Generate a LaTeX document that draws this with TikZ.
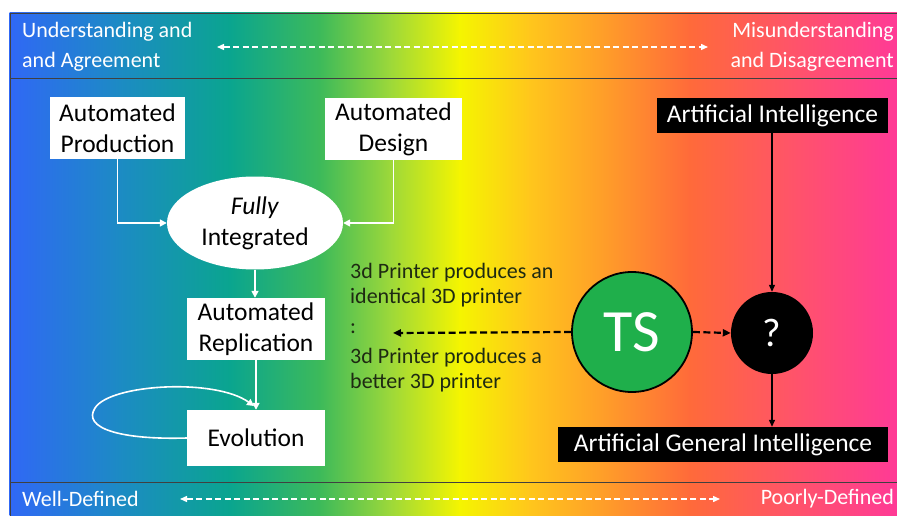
\documentclass[tikz,border=0pt]{standalone}
\usepackage{fontspec}
\setmainfont{Carlito}
\usetikzlibrary{arrows.meta,shapes.geometric,calc}
\definecolor{c0}{HTML}{3068F5}
\definecolor{c1}{HTML}{1C8BC4}
\definecolor{c2}{HTML}{0AA58F}
\definecolor{c3}{HTML}{3DBA5A}
\definecolor{c4}{HTML}{9CD83A}
\definecolor{c5}{HTML}{F5F500}
\definecolor{c6}{HTML}{FFC61C}
\definecolor{c7}{HTML}{FF9A2A}
\definecolor{c8}{HTML}{FF6A3A}
\definecolor{c9}{HTML}{FF5468}
\definecolor{c10}{HTML}{FF3A96}
\definecolor{tsgreen}{HTML}{1FAF4B}
\definecolor{txtdark}{HTML}{1E2A12}
\tikzset{
  wbox/.style={fill=white,text=black,align=center,inner sep=0pt,font=\fontsize{25.5}{31}\selectfont},
  bbox/.style={fill=black,text=white,align=center,inner sep=0pt,font=\fontsize{25.5}{28}\selectfont},
  wlabel/.style={text=white,align=left,inner sep=0pt,font=\fontsize{22}{30}\selectfont},
  warrow/.style={white,line width=1.6pt,-{Triangle[length=7pt,width=7pt]}},
  bandarrow/.style={white,line width=1.4pt,dash pattern=on 6pt off 3.5pt,{Triangle[length=7pt,width=6pt]}-{Triangle[length=7pt,width=6pt]}},
  barrow/.style={black,line width=1.2pt,-{Triangle[length=7pt,width=6pt]}},
  bdash/.style={black,line width=2.2pt,dash pattern=on 7pt off 3.5pt,-{Triangle[length=8pt,width=7pt]}},
  bandline/.style={black!75,line width=0.8pt}
}
\begin{document}
\begin{tikzpicture}[x=1pt,y=-1pt]
\useasboundingbox (0,0) rectangle (897,516);
\fill[white] (0,0) rectangle (897,516);
% gradient background
\foreach \xa/\xb/\ca/\cb in {10/120/c0/c1,120/230/c1/c2,230/320/c2/c3,320/390/c3/c4,390/460/c4/c5,460/530/c5/c6,530/610/c6/c7,610/690/c7/c8,690/790/c8/c9,790/897/c9/c10}{
  \shade[left color=\ca,right color=\cb] (\xa-0.3,13) rectangle (\xb+0.3,516);
}
\draw[bandline] (10,516) -- (10,13) -- (897,13);
\draw[bandline] (10,78) -- (897,78);
\draw[bandline] (10,482) -- (897,482);

% band labels
\node[wlabel,anchor=west] (ua) at (22,47) {Understanding and\\and Agreement};
\node[wlabel,anchor=east,align=right] (md) at (894,47) {Misunderstanding\\and Disagreement};
\coordinate (ta1) at (217,47);
\coordinate (ta2) at (708,47);
\draw[bandarrow] (ta1) -- (ta2);

\node[wlabel,anchor=west] (wd) at (22,499) {Well-Defined};
\node[wlabel,anchor=east] (pd) at (894,499) {Poorly-Defined};
\coordinate (ba1) at (180,499);
\coordinate (ba2) at (720,499);
\draw[bandarrow] (ba1) -- (ba2);

% left flow
\node[wbox,minimum width=135pt,minimum height=62pt] (prod) at (117.5,128) {Automated\\Production};
\node[wbox,minimum width=137pt,minimum height=62pt] (des) at (393.5,129) {Automated\\Design};
\node[ellipse,fill=white,text=black,align=center,inner sep=0pt,minimum width=176pt,minimum height=93pt,font=\fontsize{25.5}{31}\selectfont] (fi) at (255,223) {\textit{Fully}\\Integrated};
\node[wbox,minimum width=138pt,minimum height=62pt] (rep) at (256,329) {Automated\\Replication};
\node[wbox,minimum width=138pt,minimum height=56pt] (evo) at (256,438) {Evolution};

\draw[warrow] (prod.south) |- (fi.west);
\draw[warrow] (des.south) |- (fi.east);
\draw[warrow] (fi.south) -- (fi.south |- rep.north);
\draw[warrow] (rep.south) -- (rep.south |- evo.north);
\draw[warrow] (evo.west) .. controls (120,440) and (82,428) .. (95,408) .. controls (110,384) and (215,378) .. (254,406);

% middle text
\node[anchor=north west,align=left,inner sep=0pt,text=txtdark,font=\fontsize{22}{25}\selectfont] (txt) at (350,263) {3d Printer produces an\\identical 3D printer\\[5pt]:\\[5pt]3d Printer produces a\\better 3D printer};

% right side
\node[circle,fill=tsgreen,draw=black,line width=1.8pt,minimum size=120pt,inner sep=0pt,text=white,font=\fontsize{60}{60}\selectfont] (ts) at (632,332) {TS};
\node[circle,fill=black,minimum size=82pt,inner sep=0pt,text=white,font=\fontsize{40}{40}\selectfont] (q) at (772,333) {?};
\node[bbox,minimum width=231pt,minimum height=35pt] (ai) at (772.5,115.5) {Artificial Intelligence};
\node[bbox,minimum width=330pt,minimum height=35pt] (agi) at (723,444.5) {Artificial General Intelligence};

\coordinate (tsend) at (393,333);
\draw[bdash] (ts.west) -- (tsend);
\draw[bdash] (ts.east) -- (q.west);
\draw[barrow] (ai.south -| q.north) -- (q.north);
\draw[barrow] (q.south) -- (q.south |- agi.north);
\end{tikzpicture}
\end{document}
